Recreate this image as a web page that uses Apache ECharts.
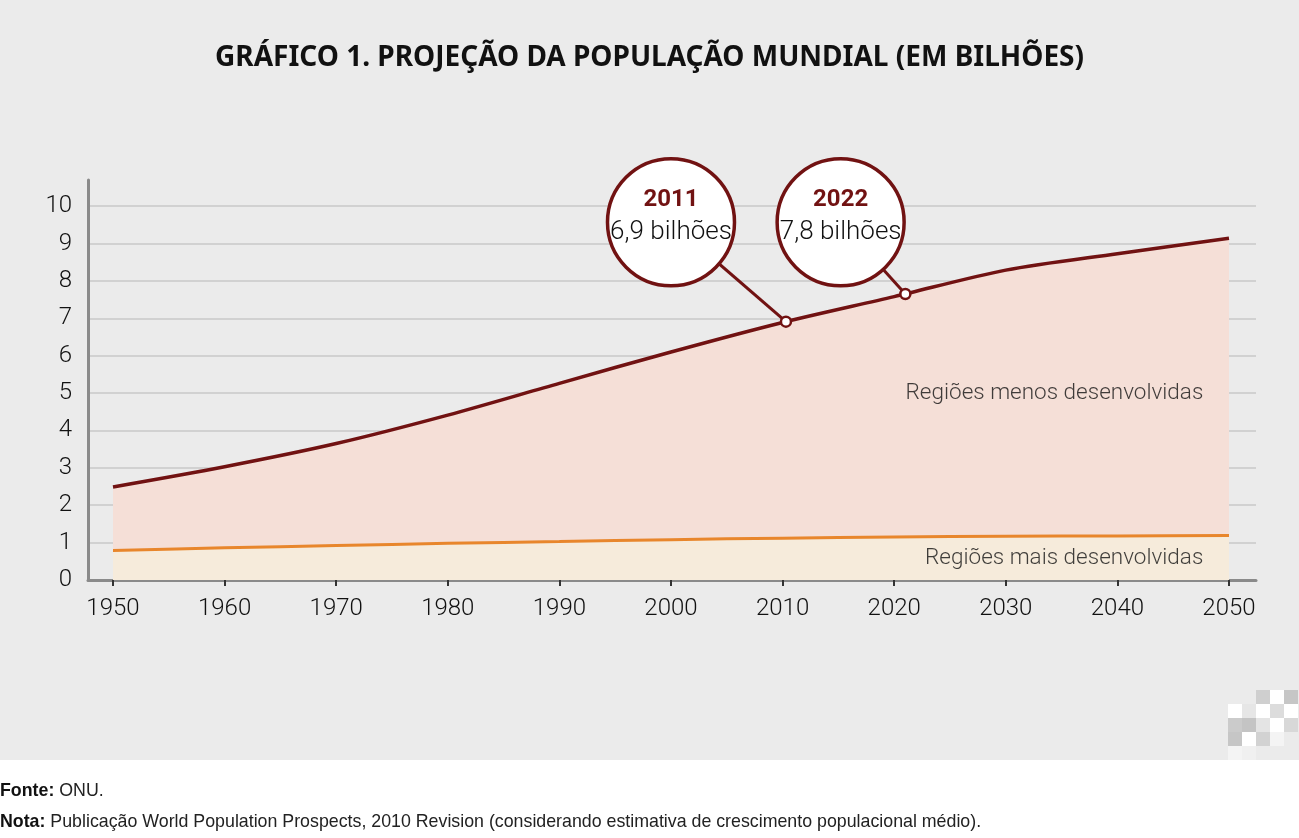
<!DOCTYPE html>
<html>
<head>
<meta charset="utf-8">
<script src="https://cdn.jsdelivr.net/npm/echarts@6/dist/echarts.min.js"></script>
<style>
html,body{margin:0;padding:0;background:#ffffff;}
#chart{width:1299px;height:838px;}
</style>
</head>
<body>
<div id="chart"></div>
<script>
// ---- data ----
const years = [1950, 1960, 1970, 1980, 1990, 2000, 2010, 2020, 2030, 2040, 2050];
const totalPop = [2.49, 3.03, 3.65, 4.41, 5.26, 6.10, 6.89, 7.58, 8.29, 8.73, 9.14]; // mundo (menos + mais desenvolvidas)
const morePop  = [0.79, 0.86, 0.92, 0.98, 1.03, 1.08, 1.12, 1.15, 1.17, 1.18, 1.19]; // regiões mais desenvolvidas
const xTicks = [1950, 1960, 1970, 1980, 1990, 2000, 2010, 2020, 2030, 2040, 2050];
const yTicks = [0, 1, 2, 3, 4, 5, 6, 7, 8, 9, 10];
const calloutLabels = ['2011', '2022'];
const calloutTexts = ['6,9 bilhões', '7,8 bilhões'];
const calloutDotX = [2010.3, 2021.0];   // where the dots sit in the picture
const calloutDotY = [6.91, 7.65];
const calloutCenterX = [2000.0, 2015.2];
const calloutCenterY = [9.57, 9.57];
const regionTexts = ['Regiões menos desenvolvidas', 'Regiões mais desenvolvidas'];
const regionX = [2047.7, 2047.7];
const regionY = [5.0, 0.58];
const titleText = 'GRÁFICO 1. PROJEÇÃO DA POPULAÇÃO MUNDIAL (EM BILHÕES)';
const sourceText = 'ONU.';
const noteText = 'Publicação World Population Prospects, 2010 Revision (considerando estimativa de crescimento populacional médio).';

// ---- styles ----
const DARK = '#711212';
const ORANGE = '#e8862c';
const LIGHT = 'Roboto, "Liberation Sans", sans-serif';
const FOOT = '"Liberation Sans", Arial, sans-serif';

const chart = echarts.init(document.getElementById('chart'), null, { renderer: 'canvas' });

// decorative pixel pattern (bottom right)
const pix = [
  [1256, 690, '#cfcfcf'], [1270, 690, '#ffffff'], [1284, 690, '#c6c6c6'],
  [1228, 704, '#ffffff'], [1242, 704, '#e6e6e6'], [1256, 704, '#ffffff'], [1270, 704, '#dcdcdc'], [1284, 704, '#ffffff'],
  [1228, 718, '#cbcbcb'], [1242, 718, '#c4c4c4'], [1256, 718, '#e4e4e4'], [1270, 718, '#ffffff'], [1284, 718, '#d8d8d8'],
  [1228, 732, '#c6c6c6'], [1242, 732, '#ffffff'], [1256, 732, '#d2d2d2'], [1270, 732, '#f4f4f4'],
  [1228, 746, '#f4f4f4'], [1242, 746, '#f0f0f0']
];
const graphics = [
  { type: 'rect', shape: { x: 0, y: 0, width: 1299, height: 760 }, style: { fill: '#ebebeb' }, z: -10, silent: true }
];
pix.forEach(p => graphics.push({ type: 'rect', shape: { x: p[0], y: p[1], width: 14, height: 14 }, style: { fill: p[2] }, z: -9, silent: true }));
const footRich = { b: { fontFamily: FOOT, fontWeight: 'bold', fontSize: 17.8, fill: '#111' } };
graphics.push({
  type: 'text', left: 0, top: 782,
  style: { text: '{b|Fonte:} ' + sourceText, rich: footRich, fontFamily: FOOT, fontSize: 17.8, fill: '#222' }
});
graphics.push({
  type: 'text', left: 0, top: 813,
  style: { text: '{b|Nota:} ' + noteText, rich: footRich, fontFamily: FOOT, fontSize: 17.8, fill: '#222' }
});

const series = [];
series.push({
  type: 'line', name: 'Total',
  data: years.map((y, i) => [y, totalPop[i]]),
  smooth: 0.3, symbol: 'none',
  lineStyle: { color: DARK, width: 3.5 },
  areaStyle: { color: '#f5dfd7', opacity: 1 },
  z: 2
});
series.push({
  type: 'line', name: 'Regiões mais desenvolvidas',
  data: years.map((y, i) => [y, morePop[i]]),
  smooth: 0.3, symbol: 'none',
  lineStyle: { color: ORANGE, width: 3 },
  areaStyle: { color: '#f6ebdb', opacity: 1 },
  z: 3
});
calloutLabels.forEach((lab, i) => {
  series.push({
    type: 'line', data: [[calloutCenterX[i], calloutCenterY[i]], [calloutDotX[i], calloutDotY[i]]],
    symbol: 'none', lineStyle: { color: DARK, width: 3 }, z: 4, silent: true
  });
});
series.push({
  type: 'scatter', data: calloutDotX.map((x, i) => [x, calloutDotY[i]]),
  symbol: 'circle', symbolSize: 10,
  itemStyle: { color: '#ffffff', borderColor: DARK, borderWidth: 2.5, opacity: 1 }, z: 6, silent: true
});
series.push({
  type: 'scatter',
  data: calloutLabels.map((lab, i) => ({ value: [calloutCenterX[i], calloutCenterY[i]], name: lab, txt: calloutTexts[i] })),
  symbol: 'circle', symbolSize: 127,
  itemStyle: { color: '#ffffff', borderColor: DARK, borderWidth: 3.5, opacity: 1 },
  label: {
    show: true, position: 'inside', offset: [0, -6],
    formatter: p => '{y|' + p.name + '}\n{v|' + p.data.txt + '}',
    rich: {
      y: { fontFamily: LIGHT, fontWeight: 'bold', fontSize: 24, color: DARK, lineHeight: 33, align: 'center' },
      v: { fontFamily: LIGHT, fontWeight: 300, fontSize: 26, color: '#111', lineHeight: 33, align: 'center' }
    }
  },
  z: 8, silent: true
});
series.push({
  type: 'scatter',
  data: regionTexts.map((t, i) => ({ value: [regionX[i], regionY[i]], name: t })),
  symbolSize: 0,
  label: {
    show: true, position: 'left', distance: 0, formatter: p => p.name,
    fontFamily: LIGHT, fontWeight: 300, fontSize: 22.5, color: '#111'
  },
  z: 7, silent: true
});

const option = {
  animation: false,
  backgroundColor: 'transparent',
  title: {
    text: titleText, left: 'center', top: 39,
    textStyle: { fontFamily: '"Noto Sans", sans-serif', fontWeight: 'bold', fontSize: 28, color: '#111' }
  },
  graphic: graphics,
  grid: { left: 88, right: 43, top: 180, bottom: 258, containLabel: false },
  xAxis: {
    type: 'value', min: 1947.76, max: 2052.42,
    axisLine: { show: true, lineStyle: { color: '#8a8a8a', width: 3 } },
    axisTick: { show: true, customValues: xTicks, length: 6, inside: false, lineStyle: { color: '#333', width: 2 } },
    axisLabel: { customValues: xTicks, fontFamily: LIGHT, fontWeight: 300, fontSize: 24, color: '#111', margin: 17, formatter: v => String(v) },
    splitLine: { show: false }
  },
  yAxis: {
    type: 'value', min: 0, max: 10.7, interval: 1,
    axisLine: { show: true, lineStyle: { color: '#8a8a8a', width: 3 } },
    axisTick: { show: false },
    axisLabel: { customValues: yTicks, fontFamily: LIGHT, fontWeight: 300, fontSize: 24, color: '#111', margin: 16 },
    splitLine: { show: true, showMinLine: false, showMaxLine: false, lineStyle: { color: '#c9c9c9', width: 1.5 } }
  },
  series: series
};
chart.setOption(option);
</script>
</body>
</html>
